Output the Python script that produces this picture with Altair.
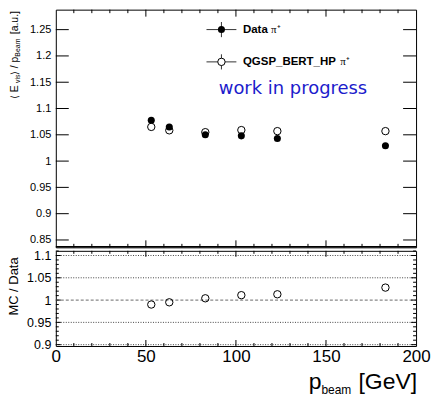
import altair as alt
import pandas as pd

# ---- data ----
energy = [53, 63, 83, 103, 123, 183]
resp_data = [1.0775, 1.065, 1.050, 1.048, 1.043, 1.029]
resp_mc = [1.065, 1.0585, 1.055, 1.059, 1.057, 1.057]
ratio_mc_data = [0.990, 0.995, 1.004, 1.011, 1.013, 1.028]

top_y_ticks = [0.85, 0.9, 0.95, 1.0, 1.05, 1.1, 1.15, 1.2, 1.25]
bot_y_major = [0.9, 0.95, 1.0, 1.05, 1.1]
bot_y_minor = [0.91, 0.92, 0.93, 0.94, 0.96, 0.97, 0.98, 0.99,
               1.01, 1.02, 1.03, 1.04, 1.06, 1.07, 1.08, 1.09, 1.11]
x_labels = [0, 50, 100, 150, 200]
x_major_inner = [50, 100, 150]
x_minor = [10, 20, 30, 40, 60, 70, 80, 90, 110, 120, 130, 140, 160, 170, 180, 190]
grid_dotted = [0.9, 0.95, 1.05, 1.1]
grid_dashed = [1.0]

W, HT, HB = 361.5, 238.5, 95.5
FONT = "Liberation Sans"

xs = alt.Scale(domain=[0, 200], nice=False, zero=False)
yts = alt.Scale(domain=[0.836, 1.288], nice=False, zero=False)
ybs = alt.Scale(domain=[0.897, 1.1105], nice=False, zero=False)

pts = pd.DataFrame({"E": energy, "data": resp_data, "mc": resp_mc, "ratio": ratio_mc_data})

top_axis = alt.Axis(values=top_y_ticks, format="~g", ticks=False, tickSize=0, domain=False,
                    grid=False, labelPadding=5, labelFontSize=11, labelFont=FONT,
                    labelColor="black", title="", labelOverlap=False, labelFlush=False)
bx_axis = alt.Axis(values=x_labels, format="d", ticks=False, tickSize=0, domain=False,
                   grid=False, labelPadding=3, labelFontSize=17, labelFont=FONT,
                   labelColor="black", title="", labelOverlap=False, labelFlush=False)
by_axis = alt.Axis(values=bot_y_major, format="~g", ticks=False, tickSize=0, domain=False,
                   grid=False, labelPadding=5, labelFontSize=12.5, labelFont=FONT,
                   labelColor="black", title="", labelOverlap=False, labelFlush=False)


def df(vals):
    return pd.DataFrame({"v": vals})


def xticks(vals, y_from, y_to, axis=None):
    enc_x = alt.X("v:Q", scale=xs, axis=axis) if axis is not None else alt.X("v:Q", scale=xs, axis=None)
    return alt.Chart(df(vals)).mark_rule(color="black", strokeWidth=1).encode(
        x=enc_x, y=alt.value(y_from), y2=alt.value(y_to))


def yticks(vals, scale, axis, x_from, x_to):
    return alt.Chart(df(vals)).mark_rule(color="black", strokeWidth=1).encode(
        y=alt.Y("v:Q", scale=scale, axis=axis), x=alt.value(x_from), x2=alt.value(x_to))


def txt(s, x, y, size, angle=0, align="left", baseline="middle", weight="normal",
        color="black", font=FONT):
    return alt.Chart(alt.Data(values=[{"a": 1}])).mark_text(
        text=s, x=x, y=y, fontSize=size, angle=angle, align=align, baseline=baseline,
        fontWeight=weight, color=color, font=font)


def one():
    return alt.Chart(alt.Data(values=[{"a": 1}]))


# ---------------- top panel ----------------
filled_top = alt.Chart(pts).mark_circle(color="black", size=50, opacity=1).encode(
    x=alt.X("E:Q", scale=xs, axis=None),
    y=alt.Y("data:Q", scale=yts, axis=top_axis))
open_top = alt.Chart(pts).mark_point(shape="circle", filled=False, color="black",
                                     size=55, strokeWidth=1, opacity=1).encode(
    x=alt.X("E:Q", scale=xs, axis=None),
    y=alt.Y("mc:Q", scale=yts, axis=top_axis))

leg = []
for yy, filled in [(20, True), (52.4, False)]:
    leg.append(one().mark_rule(color="#333", strokeWidth=1).encode(
        x=alt.value(151.2), x2=alt.value(181.2), y=alt.value(yy)))
    leg.append(one().mark_rule(color="#333", strokeWidth=1).encode(
        x=alt.value(166.2), y=alt.value(yy - 7.6), y2=alt.value(yy + 7.6)))
    if filled:
        leg.append(one().mark_circle(color="black", size=50, opacity=1).encode(
            x=alt.value(166.2), y=alt.value(yy)))
    else:
        leg.append(one().mark_point(shape="circle", filled=False, color="black", size=55,
                                    strokeWidth=1, fill="white", opacity=1).encode(
            x=alt.value(166.2), y=alt.value(yy)))

leg_text = [
    txt("Data", 187.8, 20, 11.5, weight="bold"),
    txt("\u03c0\u207a", 216, 20, 11, font="Liberation Serif"),
    txt("QGSP_BERT_HP", 187.8, 52.4, 11.5, weight="bold"),
    txt("\u03c0\u207a", 285.5, 52.4, 11, font="Liberation Serif"),
    txt("work in progress", 163.5, 80, 18, color="#1c1ccc", font="DejaVu Sans"),
]

tx, sx = -40.5, -37.5
ytitle = [
    txt("\u27e8 E", tx, 89.7, 10.5, angle=270),
    txt("vis", sx, 73.7, 7, angle=270),
    txt("\u27e9 / p", tx, 65.7, 10.5, angle=270),
    txt("Beam", sx, 47.2, 7, angle=270),
    txt("[a.u.]", tx, 24.7, 10.5, angle=270),
]

divider_top = one().mark_rule(color="black", strokeWidth=1.5).encode(
    x=alt.value(0), x2=alt.value(W), y=alt.value(HT - 0.5))

top = alt.layer(
    yticks(top_y_ticks, yts, top_axis, 0, 13),
    yticks(top_y_ticks, yts, top_axis, W - 13, W),
    xticks(x_major_inner, 0, 7),
    xticks(x_minor, 0, 3.5),
    xticks(x_major_inner, HT, HT - 7),
    xticks(x_minor, HT, HT - 3.5),
    divider_top,
    filled_top, open_top,
    *leg, *leg_text, *ytitle,
).properties(width=W, height=HT)

# ---------------- bottom panel ----------------
grid_dot = alt.Chart(df(grid_dotted)).mark_rule(color="#444", strokeWidth=1,
                                                 strokeDash=[1, 1.5]).encode(
    y=alt.Y("v:Q", scale=ybs, axis=by_axis), x=alt.value(0), x2=alt.value(W))
grid_dash = alt.Chart(df(grid_dashed)).mark_rule(color="#888", strokeWidth=1.3,
                                                  strokeDash=[3, 2]).encode(
    y=alt.Y("v:Q", scale=ybs, axis=by_axis), x=alt.value(0), x2=alt.value(W))

ratio_pts = alt.Chart(pts).mark_point(shape="circle", filled=False, color="black",
                                      size=55, strokeWidth=1, opacity=1).encode(
    x=alt.X("E:Q", scale=xs, axis=bx_axis),
    y=alt.Y("ratio:Q", scale=ybs, axis=by_axis))

xtitle = [
    txt("p", 266.5, 139, 23, align="right", baseline="alphabetic"),
    txt("beam", 296.5, 144, 12, align="right", baseline="alphabetic"),
    txt("[GeV]", 362.5, 139, 23, align="right", baseline="alphabetic"),
]

bottom = alt.layer(
    grid_dot, grid_dash,
    yticks(bot_y_major, ybs, by_axis, 0, 5),
    yticks(bot_y_minor, ybs, by_axis, 0, 3),
    yticks(bot_y_major, ybs, by_axis, W - 5, W),
    yticks(bot_y_minor, ybs, by_axis, W - 3, W),
    xticks(x_major_inner, 0, 6, bx_axis),
    xticks(x_minor, 0, 3, bx_axis),
    xticks(x_major_inner, HB, HB - 6, bx_axis),
    xticks(x_minor, HB, HB - 3, bx_axis),
    ratio_pts,
    txt("MC / Data", -42.2, 35.8, 13, angle=270, align="center"),
    *xtitle,
).properties(width=W, height=HB)

chart = alt.vconcat(top, bottom, spacing=0).properties(
    padding={"left": 7, "top": 8, "right": 2, "bottom": 0},
    background="white",
).configure_view(stroke="black", strokeWidth=1)

chart.save("out.html", embed_options={"renderer": "svg", "actions": False})
